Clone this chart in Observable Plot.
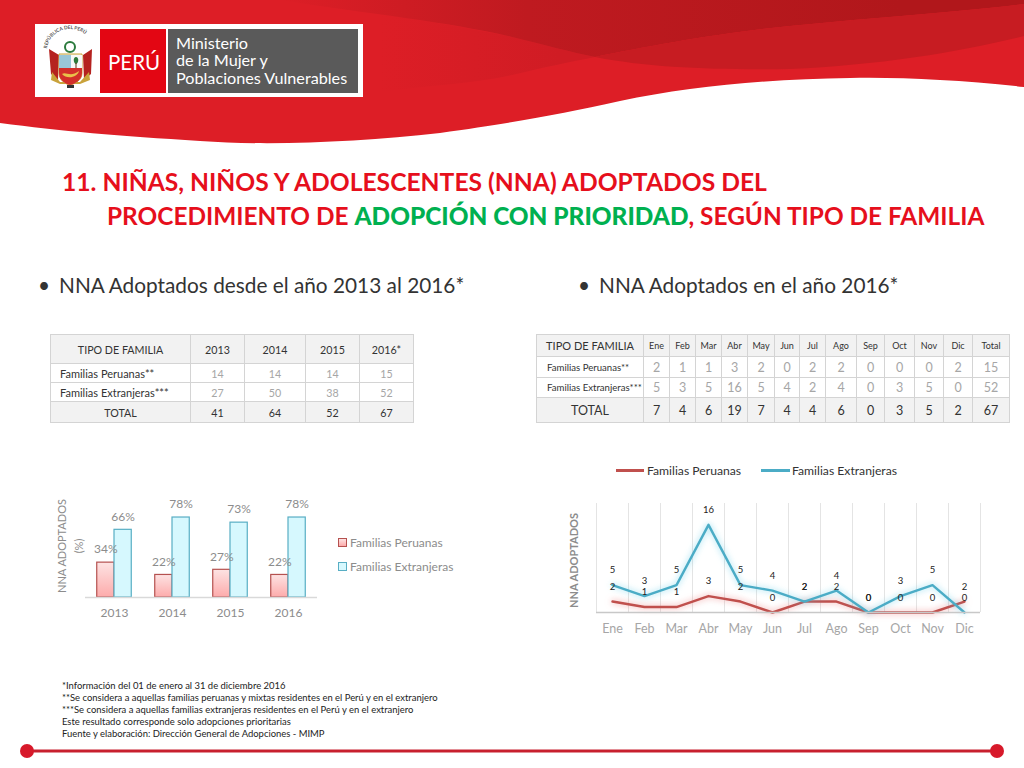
<!DOCTYPE html>
<html><head><meta charset="utf-8">
<script src="https://cdn.jsdelivr.net/npm/d3@7"></script>
<script src="https://cdn.jsdelivr.net/npm/@observablehq/plot@0.6"></script>
<style>
html,body{margin:0;padding:0;background:#fff;}
#page{position:relative;width:1024px;height:768px;overflow:hidden;font-family:Lato,sans-serif;color:#1a1a1a;}
.abs{position:absolute;white-space:nowrap;}
.title{font-weight:700;color:#e60f1c;line-height:30px;}
.title b{color:#00b050;}
.bullet{font-size:20.8px;color:#333;}
table{position:absolute;border-collapse:collapse;table-layout:fixed;font-family:Lato,sans-serif;color:#333;}
td{border:1px solid #d4d4d4;text-align:center;padding:0;overflow:hidden;white-space:nowrap;}
tr.h td,tr.t td{background:#f2f2f2;}
td.n{color:#a6a6a6;}
td.l{text-align:left;padding-left:9px;}
#t1{left:50px;top:334px;font-size:10.7px;}
#t1 td.l{font-size:11px;}
#t2{left:536px;top:334px;font-size:9px;}
#t2 td.l{padding-left:10px;font-size:9.6px;}
#t2 td.n{font-size:12.5px;}
#t2 tr.t td{font-size:12.5px;}
#t2 td.big{font-size:11px;}
#t2 tr.h td:not(.big){font-size:9px;}
.foot{font-size:9.45px;line-height:11.9px;color:#222;}
.lg{font-size:12.2px;color:#333;}
.lg2{font-size:12px;color:#8c8c8c;}
.swatch{position:absolute;width:7px;height:7px;}
.glowR{filter:drop-shadow(0 0 3px rgba(230,90,90,.6));}
.glowB{filter:drop-shadow(0 0 3px rgba(80,200,230,.65));}
</style></head>
<body><div id="page">
<svg class="abs" style="left:0;top:0" width="1024" height="160">
  <defs>
    <linearGradient id="topDark" gradientUnits="userSpaceOnUse" x1="280" y1="0" x2="900" y2="0">
      <stop offset="0" stop-color="#dd1e26"/><stop offset="0.4" stop-color="#bf1a20"/><stop offset="1" stop-color="#b1171b"/>
    </linearGradient>
    <linearGradient id="fade" gradientUnits="userSpaceOnUse" x1="380" y1="0" x2="560" y2="0">
      <stop offset="0" stop-color="#dd1e26"/><stop offset="1" stop-color="#d01c24"/>
    </linearGradient>
  </defs>
  <path d="M0,0H1024V87C960,80 900,77 850,78C770,79 690,86 620,101C560,114 520,122 440,133C360,142 270,146 200,141C120,136 60,131 0,123Z" fill="#dd1e26"/>
  <path d="M380,92C430,85 470,84 512,75C545,67 570,62 595,57C570,52 545,45 512,37C470,28 420,20 380,14Z" fill="url(#fade)"/>
  <path d="M280,0C370,14 450,22 512,37C545,45 570,52 595,57C650,46 720,33 790,26C880,17 960,12 1024,4V0Z" fill="url(#topDark)"/>
  <path d="M595,57C650,68 720,70 790,69C880,65 960,52 1024,36V4C960,12 880,17 790,26C720,33 650,46 595,57Z" fill="#c71c22"/>
  <rect x="35" y="24" width="328" height="73" fill="#fff"/>
  <rect x="100" y="29" width="66" height="64" fill="#e30613"/>
  <rect x="168" y="29" width="190" height="64" fill="#5a5a5a"/>
  <g>
    <defs><path id="arc" d="M47,50 A23,21 0 0 1 93,50"/></defs>
    <text font-family="Lato" font-size="4.8" font-weight="700" fill="#555"><textPath href="#arc" startOffset="2%">REPÚBLICA DEL PERÚ</textPath></text>
    <circle cx="70" cy="47" r="5" fill="none" stroke="#2b7a3d" stroke-width="2"/>
    <path d="M49,49 L59,55 L58,80 L51,74Z M92,49 L83,55 L84,80 L91,74Z" fill="#b5221f"/>
    <path d="M52,72 L60,82 L80,82 L89,72 L90,80 L80,84 L60,84 L51,80Z" fill="#c9a23a"/>
    <path d="M59,54 H82 V73 C82,80 75,84 70,85 C65,84 59,80 59,73Z" fill="#f6efd8" stroke="#c9a23a" stroke-width="1"/>
    <rect x="59" y="55" width="12" height="13" fill="#9ac6d8"/>
    <rect x="71" y="55" width="11" height="13" fill="#f8f8f8"/>
    <path d="M76,57 C79,57 79,63 76,64 C73,63 73,57 76,57Z" fill="#2d7a3a"/><rect x="75.5" y="63" width="1" height="5" fill="#5d3a1a"/>
    <path d="M59,68 H82 V73 C82,80 75,84 70,85 C65,84 59,80 59,73Z" fill="#d32f2a"/>
    <path d="M62,74 C66,71 70,78 79,71 C78,77 67,80 62,74Z" fill="#e9c14a"/>
    <rect x="67" y="85" width="7" height="3" fill="#333"/>
  </g>
  <text x="108" y="70" font-family="Lato" font-size="20.5" fill="#fff">PERÚ</text>
  <g font-family="Lato" font-size="16.2" fill="#fff">
    <text x="176" y="49">Ministerio</text>
    <text x="176" y="66">de la Mujer y</text>
    <text x="176" y="84">Poblaciones Vulnerables</text>
  </g>
</svg>
<div class="abs title" style="left:62px;top:167px;font-size:24.65px">11. NIÑAS, NIÑOS Y ADOLESCENTES (NNA) ADOPTADOS DEL</div>
<div class="abs title" style="left:107px;top:201px;font-size:24.4px">PROCEDIMIENTO DE <b>ADOPCIÓN CON PRIORIDAD</b>, SEGÚN TIPO DE FAMILIA</div>
<div class="abs bullet" style="left:38px;top:272px">•</div>
<div class="abs bullet" style="left:59px;top:272px">NNA Adoptados desde el año 2013 al 2016*</div>
<div class="abs bullet" style="left:578px;top:272px">•</div>
<div class="abs bullet" style="left:599px;top:272px">NNA Adoptados en el año 2016*</div>
<div id="tables"></div>
<div class="abs lg2" style="left:0;top:0;font-size:11px;transform-origin:0 0;transform:translate(53px,596px) rotate(-90deg);width:100px;text-align:center;line-height:17px;">NNA ADOPTADOS<br>(%)</div>
<div class="swatch" style="left:338px;top:538px;background:linear-gradient(#fde3e3,#fdabab);border:1px solid #b5514f"></div>
<div class="abs lg2" style="left:350px;top:535px">Familias Peruanas</div>
<div class="swatch" style="left:338px;top:562px;background:#d6f8fe;border:1px solid #58aec4"></div>
<div class="abs lg2" style="left:350px;top:559px">Familias Extranjeras</div>
<div class="abs" style="left:616px;top:469px;width:28px;height:3px;background:#c0504d"></div>
<div class="abs lg" style="left:647px;top:463px">Familias Peruanas</div>
<div class="abs" style="left:761px;top:469px;width:29px;height:3px;background:#4bacc6"></div>
<div class="abs lg" style="left:792px;top:463px">Familias Extranjeras</div>
<div class="abs lg" style="left:0;top:0;font-weight:700;color:#8c8c8c;font-size:11px;transform-origin:0 0;transform:translate(567px,608px) rotate(-90deg)">NNA ADOPTADOS</div>
<div id="bars"></div><div id="lines"></div>
<div class="abs foot" style="left:62px;top:680px" id="foot"></div>
<svg class="abs" style="left:0;top:735px" width="1024" height="33">
  <rect x="27" y="14.5" width="970" height="3" fill="#c8202e"/>
  <circle cx="27" cy="16" r="7" fill="#d7192a"/><circle cx="997" cy="16" r="7" fill="#d7192a"/>
</svg>
</div>
<script>
const years = ["2013","2014","2015","2016"];
const series = ["Familias Peruanas","Familias Extranjeras"];
const pctPeruanas = [34,22,27,22];
const pctExtranjeras = [66,78,73,78];
const months = ["Ene","Feb","Mar","Abr","May","Jun","Jul","Ago","Sep","Oct","Nov","Dic"];
const monthPeruanas = [2,1,1,3,2,0,2,2,0,0,0,2];
const monthExtranjeras = [5,3,5,16,5,4,2,4,0,3,5,0];
const annualPeruanas = [14,14,14,15];
const annualExtranjeras = [27,50,38,52];
const annualTotal = [41,64,52,67];
const annualHeader = ["TIPO DE FAMILIA","2013","2014","2015","2016*"];
const monthTotal = [7,4,6,19,7,4,4,6,0,3,5,2];
const monthHeader = ["TIPO DE FAMILIA",...months,"Total"];
const footnotes = ["*Información del 01 de enero al 31 de diciembre 2016","**Se considera a aquellas familias peruanas y mixtas residentes en el Perú y en el extranjero","***Se considera a aquellas familias extranjeras residentes en el Perú y en el extranjero","Este resultado corresponde solo adopciones prioritarias","Fuente y elaboración: Dirección General de Adopciones - MIMP"];

document.getElementById("foot").innerHTML = footnotes.join("<br>");

function makeTable(id, colW, rowH, header, rows, total){
  const t = document.createElement("table"); t.id = id;
  t.style.width = d3.sum(colW)+"px";
  const cg = document.createElement("colgroup");
  colW.forEach(w=>{const c=document.createElement("col");c.style.width=w+"px";cg.appendChild(c);});
  t.appendChild(cg);
  const add=(cells,cls,h,fn)=>{const tr=t.insertRow();tr.className=cls;tr.style.height=h+"px";
    cells.forEach((v,i)=>{const td=tr.insertCell();td.textContent=v;fn&&fn(td,i);});};
  add(header,"h",rowH[0],(td,i)=>{if(i==0)td.classList.add("big");});
  rows.forEach((r,j)=>add(r,"",rowH[j+1],(td,i)=>td.className=i==0?"l":"n"));
  add(total,"t",rowH[3]);
  document.getElementById("tables").appendChild(t);
}
makeTable("t1",[140,54,61,54,54],[29,19,19,21],annualHeader,
  [["Familias Peruanas**",...annualPeruanas],["Familias Extranjeras***",...annualExtranjeras]],
  ["TOTAL",...annualTotal]);
makeTable("t2",[107,26,26,26,26,27,25,26,31,28,30,29,29,37],[22,21,20,25],monthHeader,
  [["Familias Peruanas**",...monthPeruanas,15],["Familias Extranjeras***",...monthExtranjeras,52]],
  ["TOTAL",...monthTotal,67]);

const barData = years.flatMap((y,i)=>[
  {year:y,serie:series[0],v:pctPeruanas[i]},
  {year:y,serie:series[1],v:pctExtranjeras[i]}]);
const gradient = () => {
  const s = d3.create("svg:defs");
  const g = s.append("linearGradient").attr("id","pinkfill").attr("x1",0).attr("y1",0).attr("x2",0).attr("y2",1);
  g.append("stop").attr("offset","0").attr("stop-color","#fde3e3");
  g.append("stop").attr("offset","1").attr("stop-color","#fdabab");
  return s.node();
};
const barPlot = Plot.plot({
  width:250,height:140,marginLeft:3,marginRight:15,marginTop:10,marginBottom:33,
  style:{background:"transparent",fontFamily:"Lato",overflow:"visible",position:"absolute",left:"82px",top:"490px"},
  fx:{domain:years,padding:0,round:false,label:null,axis:null},
  x:{type:"band",domain:series,axis:null,paddingInner:0,paddingOuter:0.68,round:false},
  y:{domain:[0,94.6],axis:null},
  marks:[
    gradient,
    Plot.barY(barData,{fx:"year",x:"serie",y:"v",inset:0,
      fill:d=>d.serie===series[0]?"url(#pinkfill)":"#d6f8fe",
      stroke:d=>d.serie===series[0]?"#b5514f":"#58aec4",strokeWidth:1.2}),
    Plot.ruleY([0],{stroke:"#d9d9d9",strokeWidth:1.5}),
    Plot.text(barData,{fx:"year",x:"serie",y:"v",text:d=>d.v+"%",dy:-13,fontSize:12,fill:"#8c8c8c"}),
    Plot.axisFx({anchor:"bottom",tickSize:0,tickPadding:11,fontSize:12,color:"#8c8c8c",label:null})
  ]
});
document.getElementById("bars").appendChild(barPlot);

const lineData = months.flatMap((m,i)=>[
  {m,serie:series[0],v:monthPeruanas[i]},
  {m,serie:series[1],v:monthExtranjeras[i]}]);
const bandW = 32;
const linePlot = Plot.plot({
  width:404,height:160,marginLeft:10,marginRight:10,marginTop:10,marginBottom:41,
  style:{background:"transparent",fontFamily:"Lato",overflow:"visible",position:"absolute",left:"585.5px",top:"493px"},
  x:{type:"band",domain:months,padding:0,round:false,axis:null},
  y:{domain:[0,19.9],axis:null},
  marks:[
    Plot.tickX(months,{x:d=>d,dx:-bandW/2,stroke:"#e4e4e4"}),
    Plot.tickX(months.slice(-1),{x:d=>d,dx:bandW/2,stroke:"#e4e4e4"}),
    Plot.line(lineData.filter(d=>d.serie===series[0]),{x:"m",y:"v",stroke:"#c0504d",strokeWidth:2.4,className:"glowR"}),
    Plot.line(lineData.filter(d=>d.serie===series[1]),{x:"m",y:"v",stroke:"#4bacc6",strokeWidth:2.4,className:"glowB"}),
    Plot.ruleY([0],{stroke:"#c8c8c8",strokeWidth:1.5}),
    Plot.text(lineData,{x:"m",y:"v",text:"v",dy:-15,fontSize:9.5,fill:"#222"}),
    Plot.axisX({anchor:"bottom",tickSize:0,tickPadding:12,fontSize:12.5,color:"#a6a6a6",label:null})
  ]
});
document.getElementById("lines").appendChild(linePlot);
</script>
</body></html>
